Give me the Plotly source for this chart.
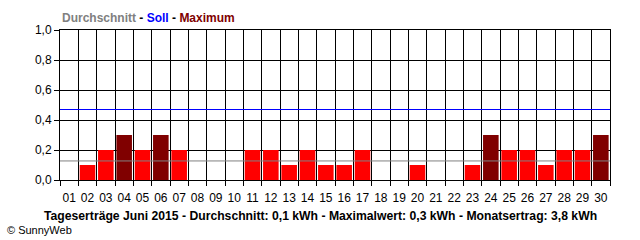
import plotly.graph_objects as go

days = [f"{d:02d}" for d in range(1, 31)]
values = [0.0, 0.1, 0.2, 0.3, 0.2, 0.3, 0.2, 0.0, 0.0, 0.0,
          0.2, 0.2, 0.1, 0.2, 0.1, 0.1, 0.2, 0.0, 0.0, 0.1,
          0.0, 0.0, 0.1, 0.3, 0.2, 0.2, 0.1, 0.2, 0.2, 0.3]
average = 0.127
target = 0.47
y_ticks = [0.0, 0.2, 0.4, 0.6, 0.8, 1.0]
title_top = ("<span style='color:#808080'>Durchschnitt</span> - "
             "<span style='color:#0000ff'>Soll</span> - "
             "<span style='color:#800000'>Maximum</span>")
title_bottom = ("Tageserträge Juni 2015 - Durchschnitt: 0,1 kWh - "
                "Maximalwert: 0,3 kWh - Monatsertrag: 3,8 kWh")
copyright_text = "© SunnyWeb"

xpos = list(range(1, len(days) + 1))
vmax = max(values)
colors = ["#800000" if v == vmax else "#ff0000" for v in values]

fig = go.Figure()
fig.add_trace(go.Bar(x=xpos, y=values, marker=dict(color=colors, line=dict(width=0)),
                     width=0.85, hoverinfo="skip"))
fig.add_trace(go.Scatter(x=[0.5, 30.5], y=[average, average], mode="lines",
                         line=dict(color="#808080", width=1), hoverinfo="skip"))
fig.add_trace(go.Scatter(x=[0.5, 30.5], y=[target, target], mode="lines",
                         line=dict(color="#0000ff", width=1), hoverinfo="skip"))

font_family = "Liberation Sans, Arial, sans-serif"
fig.update_layout(
    width=640, height=240,
    margin=dict(l=60, r=30, t=30, b=60),
    paper_bgcolor="white", plot_bgcolor="white",
    showlegend=False,
    separators=",.",
    font=dict(family=font_family, size=12, color="black"),
    xaxis=dict(
        range=[0.5, 30.5], tickmode="array", tickvals=xpos, ticktext=days,
        showgrid=False, ticks="", zeroline=False,
        showline=True, mirror=True, linecolor="black", linewidth=1,
        tickfont=dict(size=12), ticklabelstandoff=7,
        minor=dict(tick0=0.5, dtick=1, showgrid=True, gridcolor="black", gridwidth=1,
                   ticks="outside", ticklen=5, tickcolor="black", tickwidth=1),
        fixedrange=True,
    ),
    yaxis=dict(
        range=[0, 1.0], tickmode="array", tickvals=y_ticks, tickformat=".1f",
        showgrid=True, gridcolor="black", gridwidth=1, zeroline=False,
        ticks="outside", ticklen=5, tickcolor="black",
        showline=True, mirror=True, linecolor="black", linewidth=1,
        tickfont=dict(size=12), fixedrange=True,
    ),
    annotations=[
        dict(text=title_top, xref="paper", yref="paper", x=0, y=1, xanchor="left",
             yanchor="bottom", yshift=3, showarrow=False,
             font=dict(size=12, family=font_family, weight="bold")),
        dict(text=title_bottom, xref="paper", yref="paper", x=0.473, y=-0.24,
             xanchor="center", yanchor="middle", showarrow=False,
             font=dict(size=12.2, family=font_family, weight="bold", color="black")),
        dict(text=copyright_text, xref="paper", yref="paper", x=-0.1, y=-0.33,
             xanchor="left", yanchor="middle", showarrow=False,
             font=dict(size=11, family=font_family, color="black")),
    ],
)

fig.write_html("out.html")
